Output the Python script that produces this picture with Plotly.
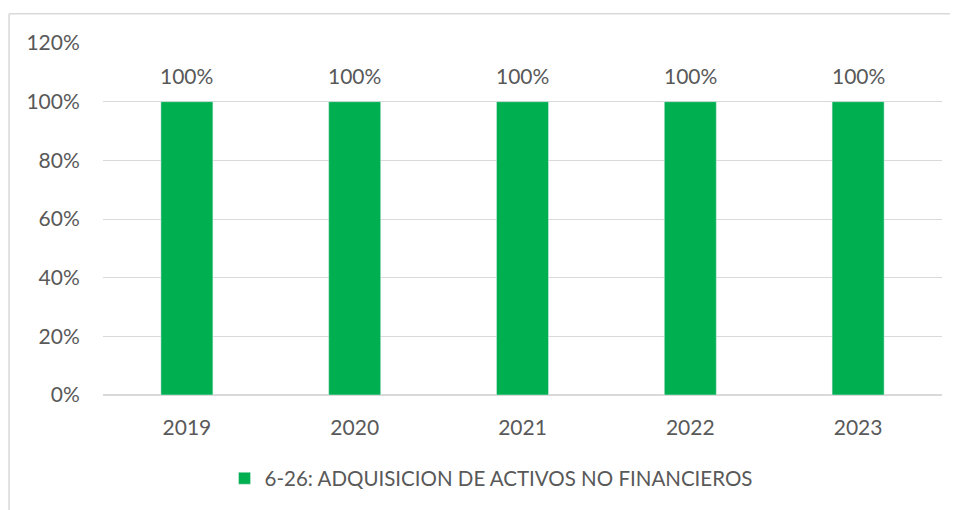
import plotly.graph_objects as go

years = ["2019", "2020", "2021", "2022", "2023"]
values = [1.0, 1.0, 1.0, 1.0, 1.0]
series_name = "6-26: ADQUISICION DE ACTIVOS NO FINANCIEROS"
ytick_vals = [0, 0.2, 0.4, 0.6, 0.8, 1.0, 1.2]
ytick_text = ["0%", "20%", "40%", "60%", "80%", "100%", "120%"]

GREEN = "#00B050"
TXT = "#595959"
GRID = "#D9D9D9"
FONT = "Lato"
FS = 21

fig = go.Figure()
fig.add_trace(go.Bar(x=years, y=values, name=series_name, marker_color=GREEN,
                     width=0.31, showlegend=True))

# data labels: annotation x given as the category's serial index
for i, v in enumerate(values):
    fig.add_annotation(x=i, y=v, xref="x", yref="y", text=f"{v*100:.0f}%",
                       showarrow=False, yanchor="bottom", yshift=12,
                       font=dict(family=FONT, size=FS, color=TXT))

fig.update_layout(
    width=950, height=502,
    margin=dict(l=95, r=16, t=35, b=113),
    paper_bgcolor="white", plot_bgcolor="white",
    font=dict(family=FONT, size=FS, color=TXT),
    showlegend=True,
    legend=dict(orientation="h", x=0.4625, xanchor="center", y=-0.237,
                yanchor="middle", font=dict(family=FONT, size=20.5, color=TXT),
                bgcolor="rgba(0,0,0,0)"),
    xaxis=dict(type="category", range=[-0.5, 4.5], autorange=False,
               showgrid=False, showline=False, ticks="outside",
               ticklen=14, tickcolor="rgba(0,0,0,0)",
               tickfont=dict(size=FS, color=TXT)),
    yaxis=dict(range=[0, 1.2], autorange=False, tickvals=ytick_vals,
               ticktext=ytick_text,
               showgrid=True, gridcolor=GRID, gridwidth=1,
               zeroline=True, zerolinecolor=GRID, zerolinewidth=1.5,
               showline=False, ticks="outside", ticklen=18,
               tickcolor="rgba(0,0,0,0)", tickfont=dict(size=FS, color=TXT)),
    shapes=[
        dict(type="line", xref="paper", yref="paper", x0=-0.112, x1=-0.112,
             y0=1.0833, y1=-0.5, line=dict(color=GRID, width=1.5)),
        dict(type="line", xref="paper", yref="paper", x0=-0.112, x1=1.2,
             y0=1.0833, y1=1.0833, line=dict(color=GRID, width=1.5)),
    ],
)

fig.write_html("out.html")
